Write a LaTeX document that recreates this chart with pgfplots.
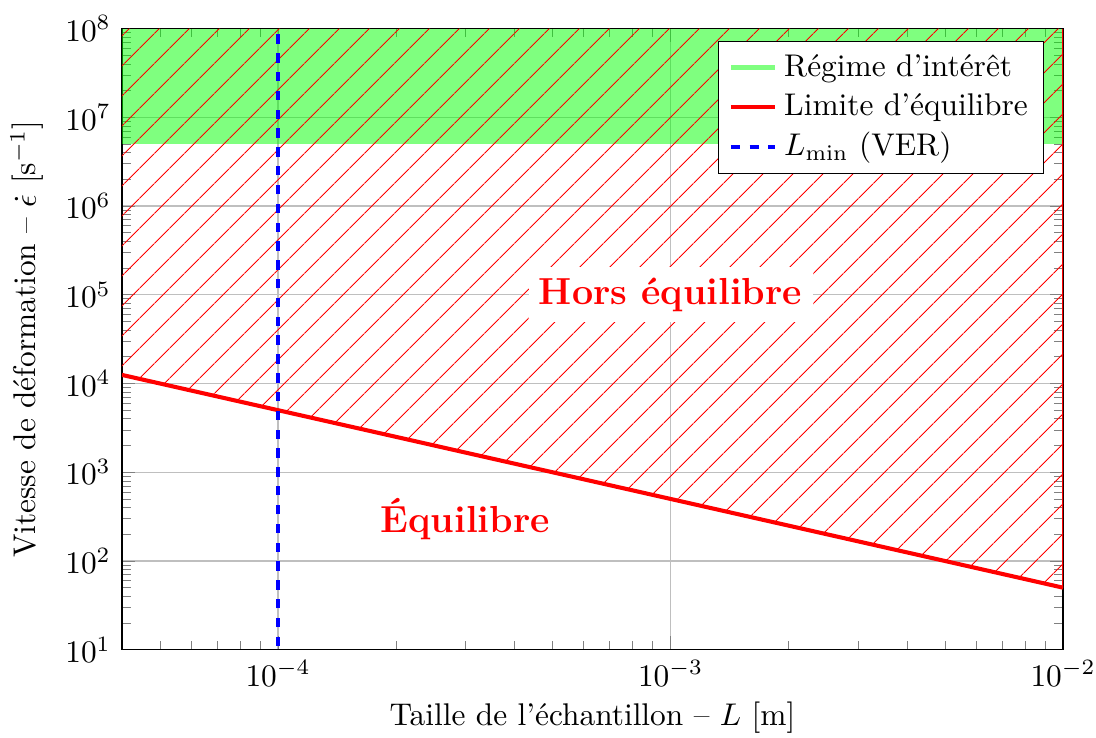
\documentclass[border=0pt]{standalone}
\usepackage{pgfplots}
\pgfplotsset{compat=1.18}
\usetikzlibrary{patterns,patterns.meta,calc}
\begin{document}
\begin{tikzpicture}
\begin{axis}[
  xmode=log, ymode=log,
  width=300pt, height=198pt, scale only axis,
  xmin=4e-5, xmax=1e-2,
  ymin=10, ymax=1e8,
  grid=major,
  major grid style={gray!50},
  xlabel={Taille de l'échantillon -- $L$ [m]},
  xlabel style={yshift=1.8pt},
  ylabel={Vitesse de déformation -- $\dot{\epsilon}$ [s$^{-1}$]},
  legend style={at={(0.98,0.98)}, anchor=north east},
  legend cell align=left,
  legend image code/.code={\draw[#1] (0cm,0cm) -- (0.5cm,0cm);},
  ytick={1e1,1e2,1e3,1e4,1e5,1e6,1e7,1e8},
]
% Regime of interest
\addplot[draw=none, fill=green, fill opacity=0.5, forget plot]
  coordinates {(4e-5,5e6) (1e-2,5e6) (1e-2,1e8) (4e-5,1e8)} -- cycle;
% hatched non-equilibrium region
\addplot[draw=none, pattern={Lines[angle=45, distance=6.9pt, line width=0.4pt]}, pattern color=red, forget plot]
  coordinates {(4e-5,12500) (1e-2,50) (1e-2,1e8) (4e-5,1e8)} -- cycle;
\addplot[red, thick, forget plot] coordinates {(1e-2,50) (1e-2,1e8)};
\addlegendimage{green!50, line width=1.6pt}
\addlegendentry{Régime d'intérêt}
\addplot[red, line width=1.3pt] coordinates {(4e-5,12500) (1e-2,50)};
\addlegendentry{Limite d'équilibre}
\addplot[blue, dashed, line width=1.3pt] coordinates {(1e-4,11) (1e-4,1e8)};
\addlegendentry{$L_{\min}$ (VER)}
\node[fill=white, text=red, font=\large\bfseries] at (axis cs:1e-3,1e5) {Hors équilibre};
\node[text=red, font=\large\bfseries] at (axis cs:3e-4,300) {Équilibre};
\end{axis}
\pgfresetboundingbox
\path[use as bounding box] ($(current axis.outer south west)+(0,2pt)$) rectangle ($(current axis.outer north -| current axis.east)+(10.5pt,1.7pt)$);
\end{tikzpicture}
\end{document}
